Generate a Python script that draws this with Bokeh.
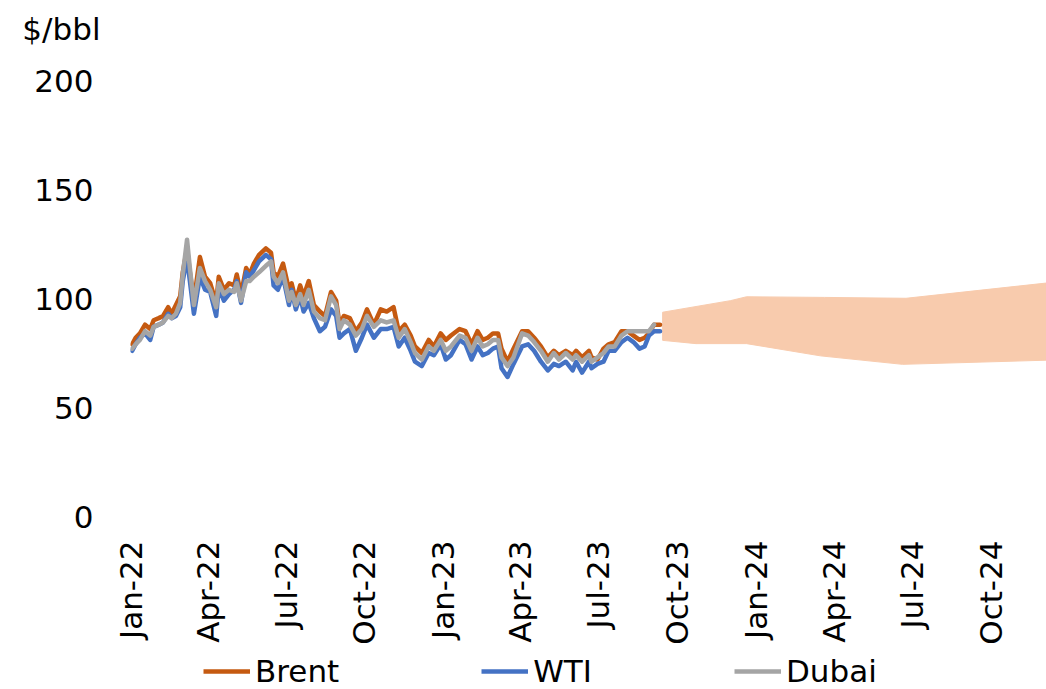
import math
import pandas as pd
from bokeh.plotting import figure
from bokeh.layouts import column
from bokeh.models import Legend, LegendItem, FixedTicker, Range1d, DatetimeTickFormatter
from bokeh.embed import file_html
from bokeh.resources import INLINE

# ---- data ----
dates = ["2022-01-03", "2022-01-07", "2022-01-12", "2022-01-18", "2022-01-24", "2022-01-28",
         "2022-02-03", "2022-02-08", "2022-02-14", "2022-02-18", "2022-02-23", "2022-02-28",
         "2022-03-03", "2022-03-08", "2022-03-11", "2022-03-16", "2022-03-23", "2022-03-29",
         "2022-04-04", "2022-04-11", "2022-04-14", "2022-04-20", "2022-04-26", "2022-05-02",
         "2022-05-05", "2022-05-10", "2022-05-16", "2022-05-20", "2022-05-25", "2022-05-31",
         "2022-06-08", "2022-06-14", "2022-06-17", "2022-06-22", "2022-06-28", "2022-07-05",
         "2022-07-08", "2022-07-13", "2022-07-18", "2022-07-22", "2022-07-28", "2022-08-03",
         "2022-08-10", "2022-08-16", "2022-08-23", "2022-08-29", "2022-09-02", "2022-09-07",
         "2022-09-14", "2022-09-21", "2022-09-28", "2022-10-04", "2022-10-12", "2022-10-20",
         "2022-10-27", "2022-11-04", "2022-11-10", "2022-11-17", "2022-11-24", "2022-11-29",
         "2022-12-07", "2022-12-15", "2022-12-21", "2022-12-29", "2023-01-04", "2023-01-10",
         "2023-01-20", "2023-01-27", "2023-02-03", "2023-02-10", "2023-02-16", "2023-02-22",
         "2023-02-28", "2023-03-06", "2023-03-10", "2023-03-17", "2023-03-24", "2023-04-03",
         "2023-04-10", "2023-04-17", "2023-04-25", "2023-05-03", "2023-05-10", "2023-05-16",
         "2023-05-24", "2023-06-01", "2023-06-05", "2023-06-12", "2023-06-20", "2023-06-23",
         "2023-06-30", "2023-07-07", "2023-07-13", "2023-07-20", "2023-07-28", "2023-08-04",
         "2023-08-11", "2023-08-18", "2023-08-24", "2023-08-29", "2023-09-04", "2023-09-11"]

brent = [79, 82, 84, 88, 86, 90,
         91, 92, 96, 93, 97, 101,
         112, 123, 113, 99, 119, 110,
         107, 98, 110, 104, 107, 106,
         111, 102, 114, 111, 116, 120,
         123, 121, 112, 110, 116, 104,
         107, 99, 106, 101, 108, 97,
         94, 92, 103, 99, 88, 92,
         91, 85, 89, 95, 88, 95,
         94, 96, 85, 88, 83, 78,
         75, 81, 78, 84, 81, 83,
         86, 85, 79, 85, 81, 82,
         84, 84, 77, 71, 77, 85,
         85, 82, 78, 73, 76, 74,
         76, 74, 76, 73, 76, 73,
         72, 77, 79, 80, 85, 85,
         83, 81, 82, 84, 88, 88]

wti = [76, 79, 82, 84, 81, 87,
       88, 89, 93, 91, 92, 96,
       108, 119, 109, 93, 110, 104,
       103, 92, 105, 99, 102, 104,
       108, 98, 112, 110, 113, 117,
       120, 118, 106, 104, 110, 97,
       104, 95, 101, 94, 98, 91,
       85, 87, 95, 92, 82, 84,
       86, 76, 82, 88, 82, 86,
       86, 87, 78, 82, 76, 71,
       69, 75, 74, 79, 72, 74,
       81, 79, 72, 78, 74, 75,
       77, 78, 68, 64, 70, 78,
       79, 76, 71, 67, 70, 69,
       71, 67, 71, 66, 71, 68,
       70, 71, 76, 76, 80, 82,
       80, 77, 78, 83, 85, 85]

dubai = [77, 79, 81, 85, 83, 87,
         88, 89, 92, 91, 93, 98,
         111, 127, 115, 97, 114, 108,
         104, 96, 107, 102, 104, 103,
         107, 99, 108, 108, 110, 112,
         115, 117, 110, 107, 112, 99,
         103, 97, 102, 97, 104, 94,
         91, 90, 101, 97, 86, 90,
         88, 83, 86, 92, 87, 90,
         89, 90, 82, 86, 80, 75,
         72, 78, 76, 81, 76, 78,
         83, 82, 76, 82, 78, 79,
         81, 81, 73, 69, 73, 84,
         83, 80, 76, 71, 75, 72,
         75, 72, 74, 71, 74, 71,
         73, 75, 78, 78, 83, 85,
         85, 85, 85, 85, 88, None]

band_upper_dates = ["2023-09-14", "2023-12-02", "2023-12-21", "2024-03-21", "2024-06-24", "2024-12-05"]
band_upper = [93.7, 99.0, 100.8, 100.5, 100.1, 107.1]
band_lower_dates = ["2023-09-14", "2023-10-23", "2023-12-21", "2024-03-16", "2024-06-20", "2024-12-05"]
band_lower = [80.8, 79.3, 79.3, 73.7, 69.8, 71.7]

tick_dates = ["2022-01-01", "2022-04-01", "2022-07-01", "2022-10-01",
              "2023-01-01", "2023-04-01", "2023-07-01", "2023-10-01",
              "2024-01-01", "2024-04-01", "2024-07-01", "2024-10-01"]
tick_labels = ["Jan-22", "Apr-22", "Jul-22", "Oct-22", "Jan-23", "Apr-23",
               "Jul-23", "Oct-23", "Jan-24", "Apr-24", "Jul-24", "Oct-24"]
y_ticks = [0, 50, 100, 150, 200]
unit_label = "$/bbl"

series_names = ["Brent", "WTI", "Dubai"]
series_colors = ["#C55A11", "#4472C4", "#A5A5A5"]

FONT = "DejaVu Sans"
FS = "31px"
W = 1046


def bare(fig):
    fig.outline_line_color = None
    fig.xgrid.grid_line_color = None
    fig.ygrid.grid_line_color = None
    fig.background_fill_color = "white"
    fig.border_fill_color = "white"


def style_axis(ax, standoff):
    ax.axis_line_color = None
    ax.major_tick_line_color = None
    ax.minor_tick_line_color = None
    ax.major_tick_out = 0
    ax.major_tick_in = 0
    ax.major_label_standoff = standoff
    ax.major_label_text_font = FONT
    ax.major_label_text_font_size = FS
    ax.major_label_text_color = "black"


# ---- top strip carrying the unit label "$/bbl" ----
top = figure(width=W, height=56, x_range=Range1d(0, 1), y_range=Range1d(0, 1),
             output_backend="svg", toolbar_location=None, x_axis_location=None,
             min_border_left=130, min_border_right=0, min_border_top=0, min_border_bottom=0)
bare(top)
top.yaxis.ticker = FixedTicker(ticks=[0.5])
top.yaxis.major_label_overrides = {0.5: unit_label}
style_axis(top.yaxis[0], 30)

# ---- main chart ----
x = pd.to_datetime(dates)
x_start = pd.Timestamp("2022-01-01")
x_end = pd.Timestamp("2024-12-05")

p = figure(width=W, height=591, x_axis_type="datetime",
           x_range=Range1d(x_start, x_end), y_range=Range1d(0, 200),
           output_backend="svg", toolbar_location=None,
           min_border_left=130, min_border_right=0, min_border_top=24, min_border_bottom=128)
bare(p)

# forecast band
bx = list(pd.to_datetime(band_upper_dates)) + list(pd.to_datetime(band_lower_dates))[::-1]
by = band_upper + band_lower[::-1]
p.patch(bx, by, fill_color="#F8CBAD", line_color="#F8CBAD", line_width=1)

for name, col, vals in zip(series_names, series_colors, [brent, wti, dubai]):
    yv = [float("nan") if v is None else v for v in vals]
    p.line(x, yv, line_color=col, line_width=4.5, line_join="round", line_cap="round")

p.yaxis.ticker = FixedTicker(ticks=y_ticks)
style_axis(p.yaxis[0], 37)

tick_ms = [pd.Timestamp(d).value // 10**6 for d in tick_dates]
p.xaxis.ticker = FixedTicker(ticks=tick_ms)
p.xaxis.formatter = DatetimeTickFormatter(months="%b-%y", days="%b-%y", years="%b-%y")
p.xaxis.major_label_overrides = {t: lab for t, lab in zip(tick_ms, tick_labels)}
p.xaxis.major_label_orientation = math.pi / 2
style_axis(p.xaxis[0], 24)

# ---- legend strip below the chart ----
lg = figure(width=W, height=42, x_range=Range1d(0, 1), y_range=Range1d(0, 1),
            output_backend="svg", toolbar_location=None,
            x_axis_location=None, y_axis_location=None,
            min_border_left=130, min_border_right=0, min_border_top=0, min_border_bottom=0)
bare(lg)
nan = float("nan")
dummies = [lg.line([nan, nan], [nan, nan], line_color=c, line_width=4.5) for c in series_colors]
legend = Legend(items=[LegendItem(label=n, renderers=[r]) for n, r in zip(series_names, dummies)],
                orientation="horizontal", location=(73, 0),
                label_text_font=FONT, label_text_font_size=FS, label_text_color="black",
                glyph_width=47, glyph_height=30, label_standoff=5, spacing=142,
                padding=0, margin=0, border_line_color=None, background_fill_alpha=0)
lg.add_layout(legend, "center")

layout = column(top, p, lg, spacing=0)
open("out.html", "w").write(file_html(layout, INLINE))
